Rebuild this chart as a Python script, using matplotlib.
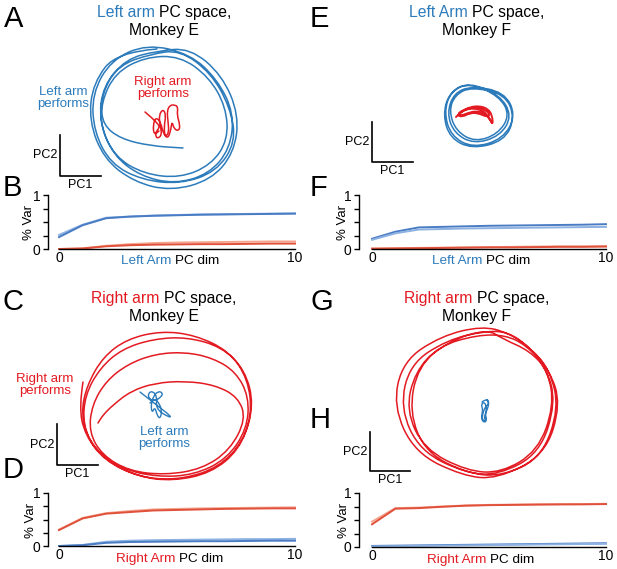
import matplotlib
matplotlib.use("Agg")
import matplotlib.pyplot as plt
from matplotlib.path import Path
from matplotlib.patches import PathPatch

plt.rcParams["font.family"] = ["Liberation Sans", "DejaVu Sans"]

W, H = 617, 569
BLUE = "#2c7bbb"
RED = "#e31a22"
BLUE_DARK = "#4a7cc4"
BLUE_LIGHT = "#8db2e2"
RED_DARK = "#e0503a"
RED_LIGHT = "#f4a590"

# ---- % variance curves (x = PC dim 0..10) ----
PC_DIM = [0, 1, 2, 3, 4, 5, 6, 7, 8, 9, 10]

B_LEFT_A = [0.26, 0.45, 0.58, 0.60, 0.62, 0.63, 0.64, 0.645, 0.65, 0.655, 0.66]
B_LEFT_B = [0.22, 0.44, 0.57, 0.60, 0.615, 0.625, 0.635, 0.64, 0.645, 0.65, 0.655]
B_RIGHT_A = [0.0, 0.01, 0.06, 0.09, 0.11, 0.12, 0.125, 0.13, 0.135, 0.14, 0.14]
B_RIGHT_B = [0.0, 0.01, 0.05, 0.07, 0.08, 0.085, 0.09, 0.09, 0.095, 0.10, 0.10]

F_LEFT_A = [0.19, 0.32, 0.40, 0.41, 0.42, 0.43, 0.435, 0.44, 0.445, 0.45, 0.46]
F_LEFT_B = [0.17, 0.29, 0.36, 0.37, 0.38, 0.385, 0.39, 0.395, 0.40, 0.405, 0.41]
F_RIGHT_A = [0.01, 0.015, 0.02, 0.025, 0.03, 0.035, 0.04, 0.045, 0.05, 0.05, 0.055]
F_RIGHT_B = [0.005, 0.01, 0.015, 0.02, 0.025, 0.03, 0.03, 0.035, 0.04, 0.04, 0.045]

D_RIGHT_A = [0.31, 0.53, 0.62, 0.66, 0.69, 0.70, 0.71, 0.715, 0.72, 0.725, 0.73]
D_RIGHT_B = [0.30, 0.52, 0.61, 0.64, 0.67, 0.68, 0.69, 0.70, 0.705, 0.71, 0.71]
D_LEFT_A = [0.0, 0.02, 0.08, 0.10, 0.11, 0.115, 0.12, 0.125, 0.13, 0.13, 0.135]
D_LEFT_B = [0.0, 0.015, 0.06, 0.075, 0.08, 0.085, 0.09, 0.09, 0.095, 0.10, 0.10]

H_RIGHT_A = [0.47, 0.72, 0.73, 0.75, 0.77, 0.78, 0.785, 0.79, 0.79, 0.795, 0.80]
H_RIGHT_B = [0.42, 0.71, 0.72, 0.745, 0.765, 0.775, 0.78, 0.785, 0.79, 0.79, 0.795]
H_LEFT_A = [0.02, 0.025, 0.03, 0.035, 0.04, 0.045, 0.05, 0.055, 0.06, 0.065, 0.07]
H_LEFT_B = [0.01, 0.015, 0.02, 0.025, 0.03, 0.035, 0.04, 0.045, 0.05, 0.055, 0.06]

# ---- neural trajectories, (PC1, PC2) in arbitrary units ----
A_LEFT_TRAJ = [
    (-6, 66), (-46, 63), (-70, 32), (-74, -6), (-59, -44), (-29, -67), (8, -76), (48, -65), (71, -38), (76, 0), (59, 40), (27, 67),
    (-6, 64), (-37, 56), (-60, 29), (-64, -6), (-50, -40), (-23, -61), (12, -69), (46, -59), (67, -34), (71, 2), (54, 36), (27, 61),
    (-16, 71), (-52, 55), (-71, 21), (-69, -17), (-52, -49), (-21, -65), (17, -69), (53, -57), (73, -27), (67, 8), (48, 42), (17, 65),
    (-12, 61), (-44, 50), (-61, 23), (-63, -10), (-48, -42), (-19, -59), (17, -63), (48, -50), (65, -25), (63, 8), (46, 38), (17, 59),
    (-18, 58), (-48, 42), (-62, 12), (-60, -10), (-42, -24), (-12, -31), (20, -33),
]
A_RIGHT_TRAJ = [
    (-18, 3), (-12, -2), (-6, -8), (-3, -12), (-8, -18), (-6, -24), (-1, -20), (-3, -10), (-4, 0), (0, 6), (3, 0), (1, -12),
    (2, -22), (6, -18), (5, -6), (4, 4), (7, 10), (12, 10), (15, 8), (14, 0), (17, -10), (16, -16), (11, -14), (9, -6),
    (8, -14), (5, -24), (0, -18), (-2, -8), (-7, -2), (-10, -10), (-9, -20), (-4, -16),
]

E_LEFT_TRAJ = [
    (-8, 32), (-27, 24), (-34, 3), (-27, -21), (-5, -33), (25, -24), (38, 0), (26, 23),
    (-6, 29), (-24, 22), (-31, 2), (-24, -18), (-4, -29), (22, -21), (34, -1), (22, 20),
    (-10, 33), (-29, 22), (-35, 0), (-28, -23), (-6, -34), (26, -26), (37, -3), (27, 21),
    (-7, 28), (-23, 20), (-29, 4), (-22, -16), (-3, -27), (20, -19), (32, 0), (21, 19),
]
E_RIGHT_TRAJ = [
    (-22, -2), (-16, 4), (-8, 8), (2, 9), (10, 6), (14, 0), (15, -10), (12, -4), (6, 2), (-2, 4), (-10, 2), (-18, -1),
    (-20, 2), (-12, 6), (-2, 8), (8, 5), (12, 0), (9, -2), (0, 2), (-8, 2), (-16, -2), (-21, 0), (-14, 5), (-4, 7),
    (6, 4), (11, -3), (14, -8),
]

C_RIGHT_TRAJ = [
    (-82, 23), (-86, -2), (-80, -30), (-60, -56), (-26, -72), (8, -76), (46, -68), (74, -45), (87, -10), (83, 26), (64, 54), (30, 70),
    (-4, 74), (-38, 66), (-62, 48), (-78, 20), (-84, -8), (-76, -37), (-53, -60), (-18, -74), (19, -74), (54, -62), (78, -37), (89, 0),
    (80, 35), (57, 58), (22, 68), (-12, 66), (-43, 56), (-65, 37), (-80, 10), (-82, -20), (-70, -45), (-43, -64), (-8, -72), (29, -70),
    (62, -54), (82, -24), (84, 8), (71, 33), (48, 47), (20, 53), (-10, 51), (-37, 41), (-59, 24), (-73, 0), (-76, -27), (-63, -50),
    (-36, -66), (0, -70), (37, -64), (65, -45), (81, -14), (73, 8), (50, 20), (20, 24), (-10, 22), (-34, 14), (-52, 0), (-62, -10),
    (-67, -18),
]
C_LEFT_TRAJ = [
    (-25, 13), (-16, 6), (-6, -2), (2, -8), (7, -13), (0, -10), (-6, -6), (-9, 0), (-8, 8), (-12, 14), (-17, 12), (-16, 6),
    (-10, 4), (-4, 8), (-2, 12), (-7, 14), (-12, 8), (-14, 0), (-13, -8), (-10, -2), (-8, -10), (-5, -14), (-3, -6), (-6, 2),
    (-10, 6), (-15, 2),
]

G_RIGHT_TRAJ = [
    (5, 76), (-36, 66), (-74, 41), (-84, -4), (-62, -51), (-14, -74), (20, -77), (68, -53), (84, -2), (72, 33), (51, 56), (31, 70),
    (8, 71), (-30, 62), (-67, 38), (-77, -6), (-57, -49), (-12, -71), (22, -73), (63, -51), (79, 0), (69, 35), (49, 57), (28, 67),
    (0, 67), (-38, 56), (-62, 30), (-71, -8), (-53, -47), (-10, -69), (24, -71), (61, -49), (77, -4), (71, 31), (53, 51), (26, 63),
    (10, 73), (-28, 61), (-59, 36), (-68, -10), (-51, -51), (-8, -72), (26, -74), (65, -55), (82, -6), (73, 31), (55, 53), (32, 69),
]
G_LEFT_TRAJ = [
    (5, 0), (9, 3), (12, 1), (11, -6), (8, -12), (10, -18), (7, -21), (4, -16), (6, -8), (4, -2), (8, 0), (10, -8),
    (7, -15), (9, -19), (5, -18), (6, -10), (9, -4), (12, -2), (10, 2),
]

fig = plt.figure(figsize=(W / 100, H / 100), dpi=100)


def px_axes(left, top, width, height):
    return fig.add_axes([left / W, 1 - (top + height) / H, width / W, height / H])


def mid(p, q):
    return ((p[0] + q[0]) / 2, (p[1] + q[1]) / 2)


def smooth_path(points, closed=False):
    # quadratic bezier with the traced points as control points
    n = len(points)
    if closed:
        verts = [mid(points[-1], points[0])]
        codes = [Path.MOVETO]
        for i in range(n):
            verts += [points[i], mid(points[i], points[(i + 1) % n])]
            codes += [Path.CURVE3, Path.CURVE3]
        return Path(verts, codes)
    verts = [points[0]]
    codes = [Path.MOVETO]
    for i in range(1, n - 1):
        verts += [points[i], mid(points[i], points[i + 1])]
        codes += [Path.CURVE3, Path.CURVE3]
    verts.append(points[-1])
    codes.append(Path.LINETO)
    return Path(verts, codes)


def pc_panel(cx, cy, trajectories, bar):
    ax = px_axes(cx - 130, cy - 130, 260, 260)
    ax.set_xlim(-130, 130)
    ax.set_ylim(-130, 130)
    ax.axis("off")
    for points, color, lw, closed in trajectories:
        ax.add_patch(PathPatch(smooth_path(points, closed), fill=False, edgecolor=color, lw=lw,
                               capstyle="round", joinstyle="round"))
    x0, y_top, y_bot, x1 = bar
    ax.plot([x0, x0, x1], [y_top, y_bot, y_bot], color="k", lw=1.2, clip_on=False)
    ax.text(x0 - 3, (y_top + y_bot) / 2, "PC2", ha="right", va="center", fontsize=9)
    ax.text((x0 + x1) / 2, y_bot - 9, "PC1", ha="center", va="center", fontsize=9)
    return ax


def var_panel(left, top, right, bottom, spine_x, lines):
    ax = px_axes(left, top, right - left, bottom - top)
    ax.set_xlim(0, 10)
    ax.set_ylim(0, 1)
    for s in ["top", "right"]:
        ax.spines[s].set_visible(False)
    ax.spines["left"].set_position(("outward", (left - spine_x) * 0.72))
    ax.spines["left"].set_linewidth(1)
    ax.spines["bottom"].set_linewidth(1)
    ax.set_yticks([0, 0.25, 0.5, 0.75, 1])
    ax.set_yticklabels(["0", "", "", "", "1"])
    ax.set_xticks([0, 10])
    ax.set_xticklabels(["0", "10"])
    ax.tick_params(axis="x", length=0, pad=1.5, labelsize=10)
    ax.tick_params(axis="y", length=3.6, width=1, pad=2, labelsize=10)
    for values, color in lines:
        ax.plot(PC_DIM, values, color=color, lw=1.4, clip_on=False)
    return ax


def colored_line(parts, cx, baseline, size):
    r = fig.canvas.get_renderer()
    probe1 = fig.text(0, 0, "a a", fontsize=size)
    probe2 = fig.text(0, 0, "aa", fontsize=size)
    gap = probe1.get_window_extent(r).width - probe2.get_window_extent(r).width
    probe1.remove()
    probe2.remove()
    texts = [fig.text(0, 1 - baseline / H, s, color=c, fontsize=size, va="baseline") for s, c in parts]
    widths = [t.get_window_extent(r).width for t in texts]
    x = cx - (sum(widths) + gap * (len(parts) - 1)) / 2
    for t, w in zip(texts, widths):
        t.set_x(x / W)
        x += w + gap


def label(text, x, y, color, size=9.5, **kw):
    fig.text(x / W, 1 - y / H, text, color=color, fontsize=size, ha="center", va="center",
             linespacing=1.1, **kw)


# ---- trajectory panels ----
pc_panel(163, 115, [(A_LEFT_TRAJ, BLUE, 1.1, False), (A_RIGHT_TRAJ, RED, 1.1, False)], (-103, -20, -61, -62))
pc_panel(478, 115, [(E_LEFT_TRAJ, BLUE, 1.1, True), (E_RIGHT_TRAJ, RED, 1.4, False)], (-106, -7, -47, -65))
pc_panel(165, 405, [(C_RIGHT_TRAJ, RED, 1.1, False), (C_LEFT_TRAJ, BLUE, 1.0, False)], (-108, -19, -60, -67))
pc_panel(477, 402, [(G_RIGHT_TRAJ, RED, 1.1, True), (G_LEFT_TRAJ, BLUE, 1.0, False)], (-107, -30, -69, -67))

# ---- variance panels ----
var_panel(59, 195, 295, 249, 48, [(B_LEFT_A, BLUE_LIGHT), (B_LEFT_B, BLUE_DARK),
                                  (B_RIGHT_A, RED_LIGHT), (B_RIGHT_B, RED_DARK)])
var_panel(372, 195, 606, 249, 359, [(F_LEFT_A, BLUE_DARK), (F_LEFT_B, BLUE_LIGHT),
                                    (F_RIGHT_A, RED_LIGHT), (F_RIGHT_B, RED_DARK)])
var_panel(59, 493, 295, 546, 48, [(D_RIGHT_A, RED_LIGHT), (D_RIGHT_B, RED_DARK),
                                  (D_LEFT_A, BLUE_LIGHT), (D_LEFT_B, BLUE_DARK)])
var_panel(372, 493, 606, 547, 359, [(H_RIGHT_A, RED_LIGHT), (H_RIGHT_B, RED_DARK),
                                    (H_LEFT_A, BLUE_DARK), (H_LEFT_B, BLUE_LIGHT)])

for x, y in [(29, 223), (343, 223), (31, 520), (344, 520)]:
    label("% Var", x, y, "k", rotation=90)

colored_line([("Left Arm", BLUE), ("PC dim", "k")], 170, 264, 9.7)
colored_line([("Left Arm", BLUE), ("PC dim", "k")], 481, 264, 9.7)
colored_line([("Right Arm", RED), ("PC dim", "k")], 170, 562, 9.7)
colored_line([("Right Arm", RED), ("PC dim", "k")], 481, 563, 9.7)

# ---- titles ----
colored_line([("Left arm", BLUE), ("PC space,", "k")], 164, 17, 11.3)
colored_line([("Monkey E", "k")], 164, 35, 11.3)
colored_line([("Left Arm", BLUE), ("PC space,", "k")], 477, 17, 11.3)
colored_line([("Monkey F", "k")], 477, 35, 11.3)
colored_line([("Right arm", RED), ("PC space,", "k")], 164, 303, 11.3)
colored_line([("Monkey E", "k")], 164, 321, 11.3)
colored_line([("Right arm", RED), ("PC space,", "k")], 477, 303, 11.3)
colored_line([("Monkey F", "k")], 477, 321, 11.3)

# ---- in-panel labels ----
label("Left arm\nperforms", 63, 98, BLUE)
label("Right arm\nperforms", 163, 88, RED)
label("Right arm\nperforms", 45, 385, RED)
label("Left arm\nperforms", 164, 438, BLUE)

# ---- panel letters ----
for letter, x, y in [("A", 4, 27), ("B", 3, 196), ("C", 3, 310), ("D", 3, 478),
                     ("E", 310, 27), ("F", 310, 196), ("G", 310, 310), ("H", 310, 428)]:
    fig.text(x / W, 1 - y / H, letter, fontsize=21, va="baseline", ha="left")

fig.savefig("out.png", dpi=100)
